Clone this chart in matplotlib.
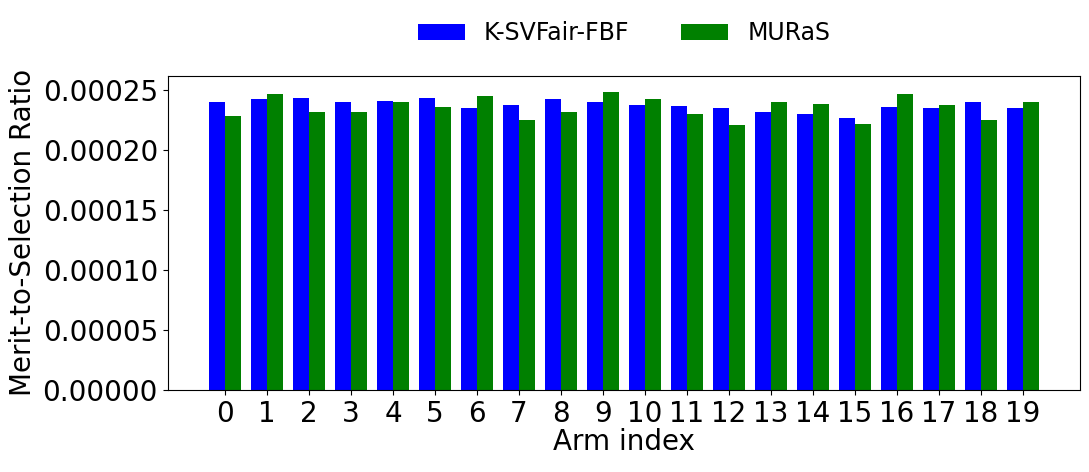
import numpy as np
from matplotlib import pyplot as plt

arms = list(range(20))
ksvfair = [24.0, 24.25, 24.4, 24.0, 24.1, 24.4, 23.5, 23.8, 24.3, 24.0,
           23.8, 23.7, 23.5, 23.2, 23.0, 22.7, 23.6, 23.5, 24.0, 23.5]
muras = [22.9, 24.7, 23.2, 23.2, 24.0, 23.6, 24.5, 22.5, 23.2, 24.9,
         24.25, 23.0, 22.1, 24.0, 23.9, 22.2, 24.7, 23.8, 22.5, 24.0]
ksvfair = np.array(ksvfair) * 1e-5
muras = np.array(muras) * 1e-5

fig = plt.figure(figsize=(10.89, 4.72), dpi=100)
ax = fig.add_axes([0.154, 0.174, 0.838, 0.665])
x = np.arange(len(arms))
w = 0.38
ax.bar(x - w / 2, ksvfair, w, color="blue", label="K-SVFair-FBF")
ax.bar(x + w / 2, muras, w, color="green", label="MURaS")
ax.set_xticks(x)
ax.set_xticklabels([str(a) for a in arms])
ax.tick_params(labelsize=20)
ax.set_ylim(0, 0.000262)
ax.set_yticks(np.arange(0, 0.00026, 0.00005))
ax.set_yticklabels([f"{v:.5f}" for v in np.arange(0, 0.00026, 0.00005)])
ax.set_xlabel("Arm index", fontsize=20, labelpad=0)
ax.set_ylabel("Merit-to-Selection Ratio", fontsize=20)
fig.legend(loc="upper center", bbox_to_anchor=(0.573, 1.0), ncol=2,
           frameon=False, fontsize=17, columnspacing=2.2)
fig.savefig("out.png")
